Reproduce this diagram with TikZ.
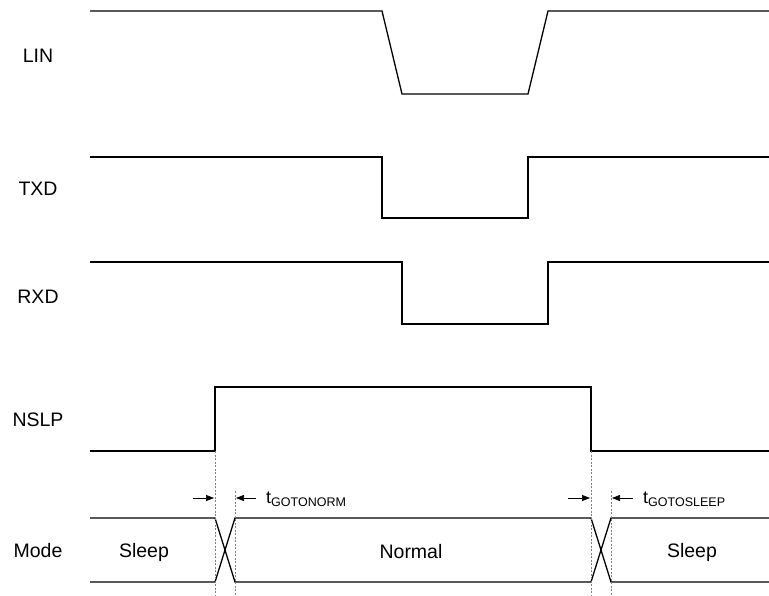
\documentclass[tikz,border=0pt]{standalone}
\usepackage{fontspec}
\setmainfont{Liberation Sans}
\usetikzlibrary{arrows.meta}
\tikzset{
  sig/.style={black, line width=1.3pt, line join=miter},
  guide/.style={gray, line width=0.6pt, dash pattern=on 2pt off 1.5pt},
  tdim/.style={black, line width=0.7pt, -{Triangle[length=8pt,width=6pt]}},
  lbl/.style={font=\fontsize{19.5}{22}\selectfont, inner sep=0pt},
  tlbl/.style={font=\fontsize{18}{21}\selectfont, inner sep=0pt, anchor=base west}
}
\newcommand{\tsub}[1]{t\raisebox{-0.35ex}{\fontsize{12.5}{14}\selectfont #1}}

\begin{document}
\begin{tikzpicture}[x=1pt,y=-1pt]
\useasboundingbox (0,0) rectangle (769,596);
\node[lbl] (lin) at (38,56) {LIN};
\node[lbl] (txd) at (38,189) {TXD};
\node[lbl] (rxd) at (38,297) {RXD};
\node[lbl] (nslp) at (38,420) {NSLP};
\node[lbl] (mode) at (38,551) {Mode};
\draw [sig] (90,11) -- (382,11) -- (402,94) -- (528,94) -- (548,11) -- (769,11);
\draw [sig] (90,157) -- (382,157) -- (382,218) -- (528,218) -- (528,157) -- (769,157);
\draw [sig] (90,262) -- (402,262) -- (402,324) -- (548,324) -- (548,262) -- (769,262);
\draw [sig] (90,451) -- (215,451) -- (215,387) -- (591,387) -- (591,451) -- (769,451);
\draw [sig] (90,518) -- (215,518) -- (235,582) -- (591,582) -- (611,518) -- (769,518);
\draw [sig] (90,582) -- (215,582) -- (235,518) -- (591,518) -- (611,582) -- (769,582);
\draw [guide] (215,451) -- (215,596);
\draw [guide] (235,491) -- (235,596);
\draw [guide] (591,451) -- (591,596);
\draw [guide] (611,491) -- (611,596);
\coordinate (n1) at (193,498);
\coordinate (n1e) at (214,498);
\coordinate (n2) at (256,498);
\coordinate (n2e) at (236,498);
\coordinate (s1) at (568,498);
\coordinate (s1e) at (590,498);
\coordinate (s2) at (633,498);
\coordinate (s2e) at (612,498);
\draw [tdim] (n1) -- (n1e);
\draw [tdim] (n2) -- (n2e);
\draw [tdim] (s1) -- (s1e);
\draw [tdim] (s2) -- (s2e);
\node[tlbl] (tnorm) at (266,503) {\tsub{GOTONORM}};
\node[tlbl] (tsleep) at (643,503) {\tsub{GOTOSLEEP}};
\node[lbl] (sleepa) at (144,552) {Sleep};
\node[lbl] (normal) at (411,552) {Normal};
\node[lbl] (sleepb) at (692,552) {Sleep};
\end{tikzpicture}
\end{document}
